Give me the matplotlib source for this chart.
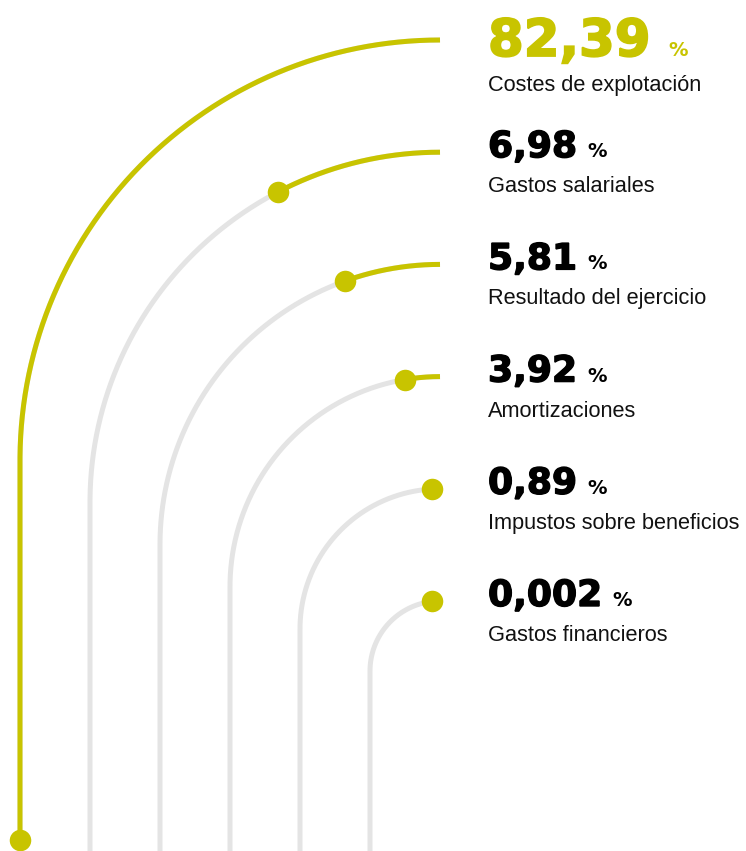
import numpy as np
import matplotlib.pyplot as plt
import matplotlib.patheffects as pe

# data
values = [82.39, 6.98, 5.81, 3.92, 0.89, 0.002]
value_labels = ["82,39", "6,98", "5,81", "3,92", "0,89", "0,002"]
categories = [
    "Costes de explotación",
    "Gastos salariales",
    "Resultado del ejercicio",
    "Amortizaciones",
    "Impustos sobre beneficios",
    "Gastos financieros",
]

YELLOW = "#c8c400"
GRAY = "#e4e4e4"

W, H = 746, 851
x_end = 440          # where every track ends on the right
x_first = 20         # vertical part of the outer track
x_step = 70
y_first = 40         # horizontal end of the outer track
y_step = 112.2
y_fill_end = 840     # end of the scale at the bottom
fill_ref = 16.0      # value that fills a whole track (quadratic scale)
min_fill = 8


def track_point(s, r, cy):
    # distance s measured from the right end of the track
    s = np.atleast_1d(np.asarray(s, dtype=float))
    arc = r * np.pi / 2
    th = np.clip(s / r, 0, np.pi / 2)
    x = np.where(s <= arc, x_end - r * np.sin(th), x_end - r)
    y = np.where(s <= arc, cy - r * np.cos(th), cy + (s - arc))
    return x, y


fig = plt.figure(figsize=(W / 100, H / 100), dpi=100)
ax = fig.add_axes([0, 0, 1, 1])
ax.set_xlim(0, W)
ax.set_ylim(H, 0)
ax.axis("off")

renderer = fig.canvas.get_renderer()
vmax = max(values)

for i, (v, lab, cat) in enumerate(zip(values, value_labels, categories)):
    top = y_first + i * y_step
    r = x_end - (x_first + i * x_step)
    cy = top + r
    arc = r * np.pi / 2
    total = arc + (y_fill_end - cy)

    # grey track
    s = np.linspace(0, arc + (H + 10 - cy), 600)
    gx, gy = track_point(s, r, cy)
    ax.plot(gx, gy, color=GRAY, lw=3.6, solid_capstyle="butt", zorder=1)

    # filled part
    fill = total * min(1.0, (v / fill_ref) ** 2)
    fill = max(fill, min_fill)
    s = np.linspace(0, fill, 400)
    fx, fy = track_point(s, r, cy)
    ax.plot(fx, fy, color=YELLOW, lw=3.6, solid_capstyle="butt", zorder=2)
    ax.plot(fx[-1], fy[-1], "o", color=YELLOW, ms=15.5, mec="none", zorder=3)

    # texts
    big = v == vmax
    col = YELLOW if big else "black"
    size = 37 if big else 26
    digit_h = 38 if big else 27
    base = top - 22 + digit_h
    heavy = [pe.withStroke(linewidth=1.3 if big else 1.0, foreground=col,
                           joinstyle="miter")]
    t = ax.text(488, base, lab, fontsize=size, fontweight="bold",
                family="DejaVu Sans", color=col, va="baseline", ha="left",
                path_effects=heavy)
    bb = t.get_window_extent(renderer)
    x_pct = ax.transData.inverted().transform((bb.x1, bb.y0))[0]
    ax.text(x_pct + (18 if big else 10), base, "%", fontsize=14,
            fontweight="bold", family="DejaVu Sans", color=col,
            va="baseline", ha="left")
    ax.text(488, base + 35, cat, fontsize=15.7, family="Liberation Sans",
            color="#111111", va="baseline", ha="left")

fig.savefig("out.png", dpi=100)
